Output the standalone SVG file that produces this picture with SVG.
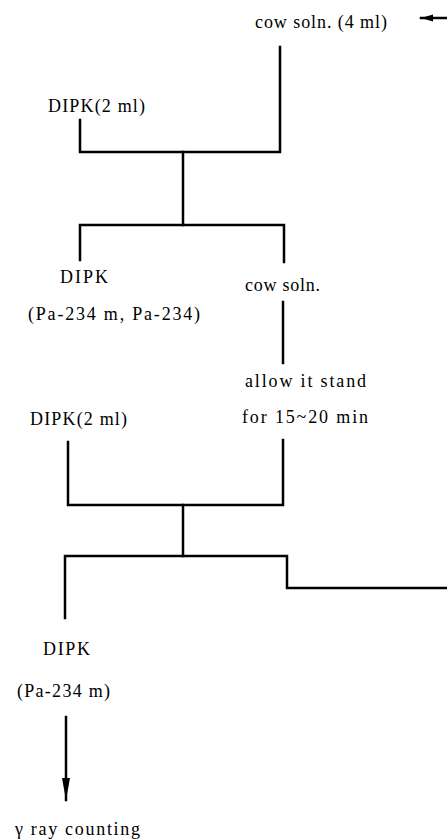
<svg xmlns="http://www.w3.org/2000/svg" width="447" height="840" viewBox="0 0 447 840">
<style>
text{font-family:"Liberation Serif","Times New Roman",serif;font-size:18px;fill:#000}
.ln{stroke:#000;stroke-width:2.5;fill:none;stroke-linecap:square}
</style>
<defs>
<marker id="ahd" viewBox="0 0 22 8" refX="22" refY="4" markerWidth="22" markerHeight="8" markerUnits="userSpaceOnUse" orient="auto">
<path d="M0,0 L22,4 L0,8 z" fill="#000"/>
</marker>
<marker id="ahs" viewBox="0 0 12 8" refX="12" refY="4" markerWidth="12" markerHeight="8" markerUnits="userSpaceOnUse" orient="auto">
<path d="M0,0.5 L12,4 L0,7.5 z" fill="#000"/>
</marker>
</defs>
<rect width="447" height="840" fill="#fff"/>
<g id="n_cow4"><text x="255" y="28" textLength="132" lengthAdjust="spacing">cow soln. (4 ml)</text></g>
<g id="n_dipk1"><text x="48" y="112" textLength="97" lengthAdjust="spacing">DIPK(2 ml)</text></g>
<g id="n_dipk_mix"><text x="60" y="283" textLength="48" lengthAdjust="spacing">DIPK</text><text x="28" y="320" textLength="172" lengthAdjust="spacing">(Pa-234 m,  Pa-234)</text></g>
<g id="n_cow"><text x="245" y="291" textLength="75" lengthAdjust="spacing">cow soln.</text></g>
<g id="n_stand"><text x="245" y="387" textLength="121" lengthAdjust="spacing">allow it stand</text><text x="242" y="423" textLength="126" lengthAdjust="spacing">for 15~20 min</text></g>
<g id="n_dipk2"><text x="30" y="425" textLength="97" lengthAdjust="spacing">DIPK(2 ml)</text></g>
<g id="n_dipk_m"><text x="43" y="655" textLength="47" lengthAdjust="spacing">DIPK</text><text x="17" y="697" textLength="93" lengthAdjust="spacing">(Pa-234 m)</text></g>
<g id="n_gamma"><text x="15" y="835" textLength="125" lengthAdjust="spacing">γ ray counting</text></g>
<g id="connectors">
<line class="ln" x1="447" y1="18" x2="421" y2="18" stroke-width="3.5" stroke-linecap="butt" marker-end="url(#ahs)"/>
<path class="ln" d="M280,47 V152 H80 V120"/>
<path class="ln" d="M183,152 V225"/>
<path class="ln" d="M80,260 V225 H284 V262"/>
<path class="ln" d="M283,302 V363"/>
<path class="ln" d="M68,442 V505 H283 V440"/>
<path class="ln" d="M183,505 V556"/>
<path class="ln" d="M65,618 V556 H287 V588 H447"/>
<line class="ln" x1="66" y1="717" x2="66" y2="800" stroke-linecap="butt" marker-end="url(#ahd)"/>
</g>
</svg>
